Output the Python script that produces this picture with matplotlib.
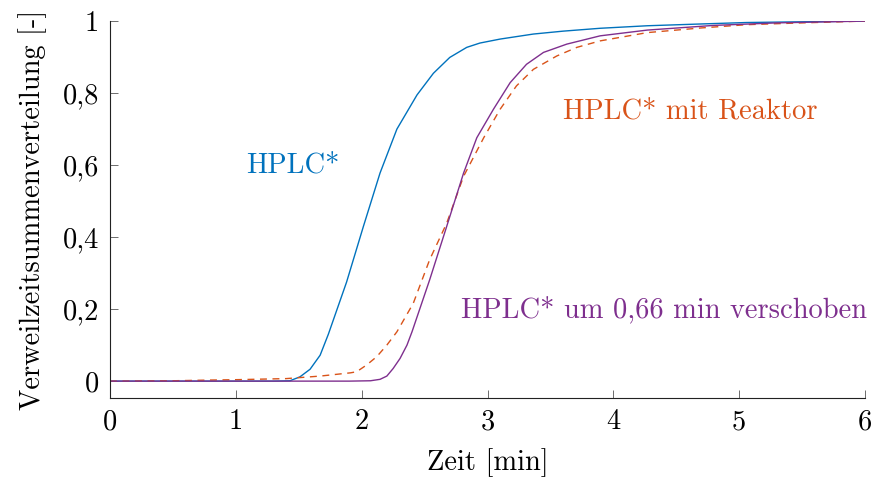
import matplotlib
matplotlib.use('Agg')
import matplotlib.pyplot as plt

plt.rcParams['font.family'] = ['cmr10', 'DejaVu Serif']
plt.rcParams['axes.formatter.use_mathtext'] = True

# HPLC* (blue)
t_hplc = [0, 0.5, 1.0, 1.3, 1.43, 1.51, 1.59, 1.67, 1.735, 1.88, 2.014, 2.146, 2.28,
          2.44, 2.57, 2.70, 2.835, 2.94, 3.1, 3.365, 3.6, 3.895, 4.27, 4.7, 5.06, 5.5, 6.0]
y_hplc = [0, 0, 0, 0, 0.001, 0.012, 0.033, 0.072, 0.13, 0.275, 0.43, 0.578, 0.70,
          0.795, 0.855, 0.899, 0.927, 0.939, 0.95, 0.964, 0.972, 0.98, 0.987, 0.992, 0.996, 0.998, 1.0]

# HPLC* mit Reaktor (orange, dashed)
t_reak = [0, 0.5, 0.8, 1.0, 1.40, 1.67, 1.91, 1.96, 2.04, 2.12, 2.2, 2.28, 2.41, 2.54, 2.676,
          2.81, 2.97, 3.1, 3.23, 3.365, 3.55, 3.71, 3.895, 4.27, 4.7, 5.06, 5.5, 6.0]
y_reak = [0, 0.001, 0.003, 0.004, 0.007, 0.014, 0.023, 0.026, 0.045, 0.068, 0.1, 0.137, 0.216, 0.337, 0.439,
          0.569, 0.676, 0.755, 0.82, 0.866, 0.903, 0.927, 0.945, 0.968, 0.981, 0.99, 0.995, 1.0]

# HPLC* um 0,66 min verschoben (purple)
t_versch = [0, 1.0, 1.5, 1.9, 2.07, 2.146, 2.2, 2.25, 2.305, 2.36, 2.4, 2.54, 2.676, 2.81,
            2.915, 3.047, 3.18, 3.31, 3.445, 3.63, 3.895, 4.27, 4.8, 5.3, 6.0]
y_versch = [0, 0, 0, 0, 0.001, 0.005, 0.014, 0.035, 0.063, 0.1, 0.137, 0.281, 0.43, 0.578,
            0.676, 0.755, 0.829, 0.88, 0.913, 0.936, 0.959, 0.975, 0.988, 0.995, 1.0]

xticks = [0, 1, 2, 3, 4, 5, 6]
yticks = [0, 0.2, 0.4, 0.6, 0.8, 1.0]
ytick_labels = ['0', '0,2', '0,4', '0,6', '0,8', '1']

blue = '#0072BD'
orange = '#D95319'
purple = '#7E2F8E'

fig = plt.figure(figsize=(8.75, 4.79), dpi=100)
ax = fig.add_axes([0.1257, 0.169, 0.8629, 0.787])

ax.plot(t_hplc, y_hplc, color=blue, lw=1.0)
ax.plot(t_reak, y_reak, color=orange, lw=1.0, ls=(0, (5, 4)))
ax.plot(t_versch, y_versch, color=purple, lw=1.0)

fs = 20.5
ax.text(1.45, 0.6, 'HPLC*', color=blue, fontsize=fs, ha='center', va='center')
ax.text(4.61, 0.75, 'HPLC* mit Reaktor', color=orange, fontsize=fs, ha='center', va='center')
ax.text(4.40, 0.2, 'HPLC* um 0,66 min verschoben', color=purple, fontsize=fs,
        ha='center', va='center')

ax.set_xlim(0, 6)
ax.set_ylim(-0.047, 1.0)
ax.set_xticks(xticks)
ax.set_xticklabels([str(v) for v in xticks])
ax.set_yticks(yticks)
ax.set_yticklabels(ytick_labels)
ax.tick_params(direction='in', length=6, width=0.6, color='#555555', labelsize=fs, pad=8)
ax.spines['top'].set_visible(False)
ax.spines['right'].set_visible(False)
for s in ['left', 'bottom']:
    ax.spines[s].set_color('#222222')
    ax.spines[s].set_linewidth(0.8)

ax.set_xlabel('Zeit [min]', fontsize=fs, labelpad=9)
ax.set_ylabel('Verweilzeitsummenverteilung [-]', fontsize=fs, labelpad=11)

fig.savefig('out.png', dpi=100)
